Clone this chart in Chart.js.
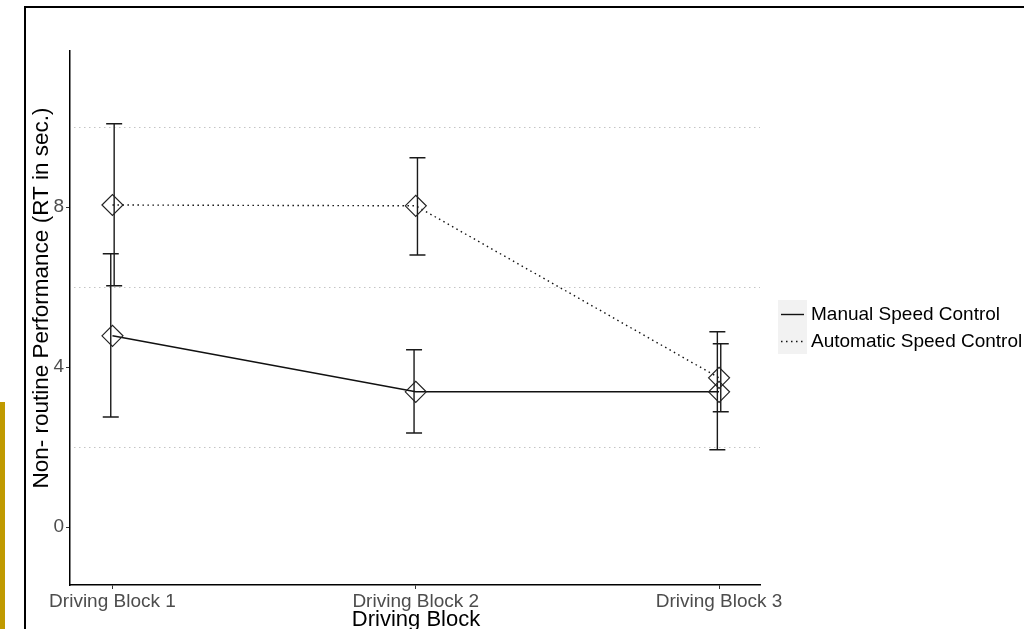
<!DOCTYPE html>
<html>
<head>
<meta charset="utf-8">
<script src="https://cdn.jsdelivr.net/npm/chart.js@4.4.1/dist/chart.umd.min.js"></script>
<style>
  html, body { margin: 0; padding: 0; background: #fff; overflow: hidden; }
  #wrap { position: relative; width: 1024px; height: 629px; overflow: hidden; }
  #marco { position: absolute; left: 24px; top: 6px; width: 1100px; height: 700px; border: 2px solid #000; }
  #barra { position: absolute; left: 0; top: 402px; width: 5px; height: 227px; background: #c09a00; }
  #grafica { position: absolute; left: 0; top: 0; }
</style>
</head>
<body>
<div id="wrap">
  <div id="marco"></div>
  <div id="barra"></div>
  <canvas id="grafica" width="1024" height="629"></canvas>
</div>
<script>
const categorias = ['Driving Block 1', 'Driving Block 2', 'Driving Block 3'];
const etiquetas = ['Manual Speed Control', 'Automatic Speed Control'];

const manualMedia = [4.78, 3.38, 3.38];
const manualMin = [2.75, 2.35, 1.93];
const manualMax = [6.83, 4.43, 4.88];

const autoMedia = [8.05, 8.03, 3.73];
const autoMin = [6.03, 6.8, 2.88];
const autoMax = [10.08, 9.23, 4.58];

const ticksY = [0, 4, 8];
const lineasGuia = [2, 6, 10];

const fuente = '"Liberation Sans", Arial, sans-serif';
const tituloX = 'Driving Block';
const tituloY = 'Non- routine Performance (RT in sec.)';

const puntos = arr => arr.map((v, i) => ({ x: i + 1, y: v }));

const extras = {
    id: 'extras',
    beforeDatasetsDraw(chart) {
        const { ctx, chartArea, scales: { x, y } } = chart;
        ctx.save();
        // lineas guia punteadas
        ctx.strokeStyle = '#c4c4c4';
        ctx.lineWidth = 1;
        ctx.setLineDash([1.5, 3.5]);
        lineasGuia.forEach(v => {
            const py = Math.round(y.getPixelForValue(v)) + 0.5;
            ctx.beginPath();
            ctx.moveTo(chartArea.left + 4, py);
            ctx.lineTo(chartArea.right, py);
            ctx.stroke();
        });
        // barras de error
        ctx.setLineDash([]);
        ctx.strokeStyle = '#1a1a1a';
        ctx.lineWidth = 1.4;
        const series = [[manualMin, manualMax, -1.7], [autoMin, autoMax, 1.7]];
        series.forEach(([bajo, alto, dx]) => {
            categorias.forEach((c, i) => {
                const px = x.getPixelForValue(i + 1) + dx;
                const y1 = y.getPixelForValue(bajo[i]);
                const y2 = y.getPixelForValue(alto[i]);
                ctx.beginPath();
                ctx.moveTo(px, y1); ctx.lineTo(px, y2);
                ctx.moveTo(px - 8, y1); ctx.lineTo(px + 8, y1);
                ctx.moveTo(px - 8, y2); ctx.lineTo(px + 8, y2);
                ctx.stroke();
            });
        });
        ctx.restore();
    },
    afterDraw(chart) {
        const { ctx } = chart;
        ctx.save();
        ctx.fillStyle = '#000';
        ctx.textAlign = 'center';
        ctx.textBaseline = 'middle';
        ctx.font = '22px ' + fuente;
        ctx.fillText(tituloX, 416, 620);
        ctx.save();
        ctx.translate(42, 298);
        ctx.rotate(-Math.PI / 2);
        ctx.font = '22.5px ' + fuente;
        ctx.fillText(tituloY, 0, 0);
        ctx.restore();

        // leyenda
        const filas = [314, 341];
        chart.data.datasets.forEach((ds, i) => {
            ctx.fillStyle = '#f2f2f2';
            ctx.fillRect(778, filas[i] - 14, 29, 27);
            ctx.strokeStyle = ds.borderColor;
            ctx.lineWidth = ds.borderWidth;
            ctx.setLineDash(ds.borderDash || []);
            ctx.beginPath();
            ctx.moveTo(781, filas[i] + 0.5);
            ctx.lineTo(804, filas[i] + 0.5);
            ctx.stroke();
            ctx.setLineDash([]);
            ctx.fillStyle = '#000';
            ctx.textAlign = 'left';
            ctx.font = '19px ' + fuente;
            ctx.fillText(ds.label, 811, filas[i] + 1);
        });
        ctx.restore();
    }
};

const grafica = new Chart(document.getElementById('grafica'), {
    type: 'line',
    data: {
        datasets: [{
            label: etiquetas[0],
            data: puntos(manualMedia),
            borderColor: '#111',
            borderWidth: 1.4,
            pointStyle: 'rectRot',
            pointRadius: 10.5,
            pointBorderWidth: 1.2,
            pointBorderColor: '#222',
            pointBackgroundColor: 'rgba(0,0,0,0)',
            fill: false
        }, {
            label: etiquetas[1],
            data: puntos(autoMedia),
            borderColor: '#111',
            borderWidth: 1.4,
            borderDash: [1.5, 3.5],
            pointStyle: 'rectRot',
            pointRadius: 10.5,
            pointBorderWidth: 1.2,
            pointBorderColor: '#222',
            pointBackgroundColor: 'rgba(0,0,0,0)',
            fill: false
        }]
    },
    options: {
        responsive: false,
        animation: false,
        devicePixelRatio: 1,
        layout: { padding: { top: 51, right: 264, left: 0, bottom: 0 } },
        plugins: { legend: { display: false }, tooltip: { enabled: false } },
        scales: {
            x: {
                type: 'linear',
                min: 0.86,
                max: 3.135,
                afterBuildTicks: axis => { axis.ticks = categorias.map((c, i) => ({ value: i + 1 })); },
                afterFit: scale => { scale.height = 44; },
                ticks: {
                    callback: v => categorias[v - 1],
                    color: '#4d4d4d',
                    font: { family: fuente, size: 19 },
                    padding: 1,
                    maxRotation: 0
                },
                grid: { display: true, drawOnChartArea: false, drawTicks: true, tickLength: 4, color: '#333' },
                border: { display: true, color: '#000', width: 1.5 }
            },
            y: {
                min: -1.45,
                max: 11.9,
                afterBuildTicks: axis => { axis.ticks = ticksY.map(v => ({ value: v })); },
                afterFit: scale => { scale.width = 70; },
                ticks: {
                    color: '#4d4d4d',
                    font: { family: fuente, size: 19 },
                    padding: 2
                },
                grid: { display: true, drawOnChartArea: false, drawTicks: true, tickLength: 4, color: '#333' },
                border: { display: true, color: '#000', width: 1.5 }
            }
        }
    },
    plugins: [extras]
});
</script>
</body>
</html>
